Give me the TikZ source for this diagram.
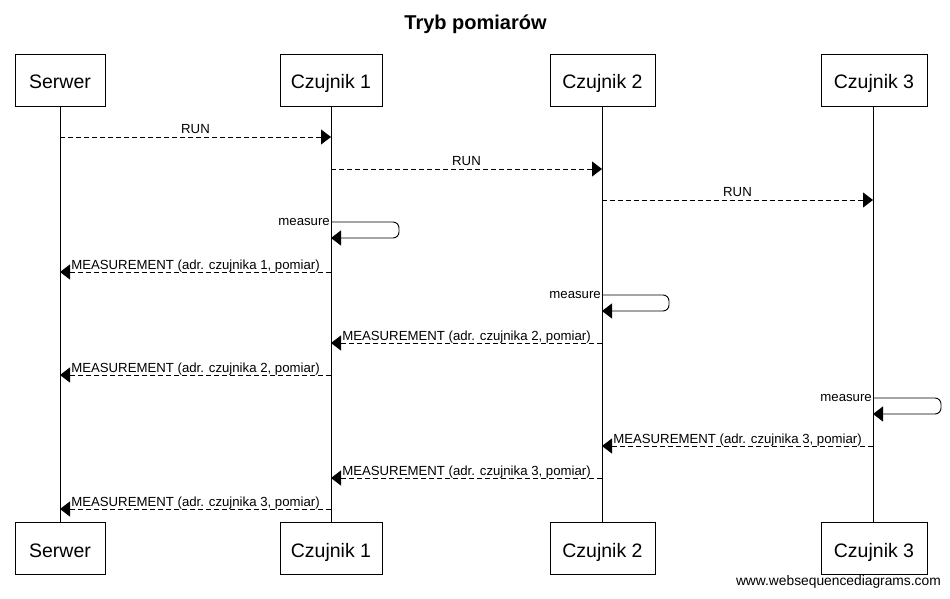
\documentclass[tikz,border=0pt]{standalone}
\usepackage{fontspec}
\setmainfont{Liberation Sans}
\usetikzlibrary{arrows.meta}
\begin{document}
\begin{tikzpicture}[x=1pt,y=-1pt,
  actor/.style={draw=black,line width=0.9pt,fill=white,inner sep=0pt,minimum height=52pt,text height=18pt,text depth=0pt,font=\fontsize{19.5}{22}\selectfont},
  life/.style={draw=black,line width=0.9pt},
  msg/.style={draw=black,line width=0.9pt,dash pattern=on 5pt off 3pt,-{Triangle[length=10pt,width=15pt]}},
  self/.style={draw=black,line width=0.9pt,rounded corners=6pt,-{Triangle[length=10pt,width=15pt]}},
  lbl/.style={font=\fontsize{13.2}{15}\selectfont,inner sep=0pt,anchor=base},
  slbl/.style={font=\fontsize{13.2}{15}\selectfont,inner sep=1pt,anchor=east}]
\useasboundingbox[fill=white] (0,0) rectangle (950,599);
\node[font=\bfseries\fontsize{20}{23}\selectfont] (title) at (475.5,24) {Tryb pomiarów};
% top actors
\node[actor,minimum width=90pt] (s) at (60,80) {Serwer};
\node[actor,minimum width=102pt] (c1) at (331,80) {Czujnik 1};
\node[actor,minimum width=105pt] (c2) at (602.5,80) {Czujnik 2};
\node[actor,minimum width=106pt] (c3) at (874,80) {Czujnik 3};
% bottom actors
\node[actor,minimum width=90pt] (sb) at (60,548) {Serwer};
\node[actor,minimum width=102pt] (c1b) at (331,548) {Czujnik 1};
\node[actor,minimum width=105pt] (c2b) at (602.5,548) {Czujnik 2};
\node[actor,minimum width=106pt] (c3b) at (874,548) {Czujnik 3};
% lifelines
\draw[life] (s.south) -- (sb.north);
\draw[life] (c1.south) -- (c1b.north);
\draw[life] ([xshift=-0.5pt]c2.south) -- ([xshift=-0.5pt]c2b.north);
\draw[life] ([xshift=-1pt]c3.south) -- ([xshift=-1pt]c3b.north);
% lifeline x positions
\coordinate (xs) at (60,0);
\coordinate (x1) at (331,0);
\coordinate (x2) at (602,0);
\coordinate (x3) at (873,0);
% RUN messages
\draw[msg] (xs |- 0,137) -- node[lbl,yshift=3.5pt] (l1) {RUN} (x1 |- 0,137);
\draw[msg] (x1 |- 0,169) -- node[lbl,yshift=3.5pt] (l2) {RUN} (x2 |- 0,169);
\draw[msg] (x2 |- 0,200) -- node[lbl,yshift=3.5pt] (l3) {RUN} (x3 |- 0,200);
% measure 1
\draw[self] (x1 |- 0,222) -- (399,222) -- (399,238) -- (x1 |- 0,238);
\node[slbl] (m1) at (x1 |- 0,222) {measure};
\draw[msg] (x1 |- 0,272) -- node[lbl,yshift=3pt] (l4) {MEASUREMENT (adr. czujnika 1, pomiar)} (xs |- 0,272);
% measure 2
\draw[self] (x2 |- 0,295) -- (669,295) -- (669,311) -- (x2 |- 0,311);
\node[slbl] (m2) at (x2 |- 0,295) {measure};
\draw[msg] (x2 |- 0,343) -- node[lbl,yshift=3pt] (l5) {MEASUREMENT (adr. czujnika 2, pomiar)} (x1 |- 0,343);
\draw[msg] (x1 |- 0,375) -- node[lbl,yshift=3pt] (l6) {MEASUREMENT (adr. czujnika 2, pomiar)} (xs |- 0,375);
% measure 3
\draw[self] (x3 |- 0,398) -- (941,398) -- (941,414) -- (x3 |- 0,414);
\node[slbl] (m3) at (x3 |- 0,398) {measure};
\draw[msg] (x3 |- 0,446) -- node[lbl,yshift=3pt] (l7) {MEASUREMENT (adr. czujnika 3, pomiar)} (x2 |- 0,446);
\draw[msg] (x2 |- 0,478) -- node[lbl,yshift=3pt] (l8) {MEASUREMENT (adr. czujnika 3, pomiar)} (x1 |- 0,478);
\draw[msg] (x1 |- 0,509) -- node[lbl,yshift=3pt] (l9) {MEASUREMENT (adr. czujnika 3, pomiar)} (xs |- 0,509);
% footer
\node[font=\fontsize{13.8}{15}\selectfont,anchor=east,inner sep=0pt] (foot) at (941,582) {www.websequencediagrams.com};
\end{tikzpicture}
\end{document}
